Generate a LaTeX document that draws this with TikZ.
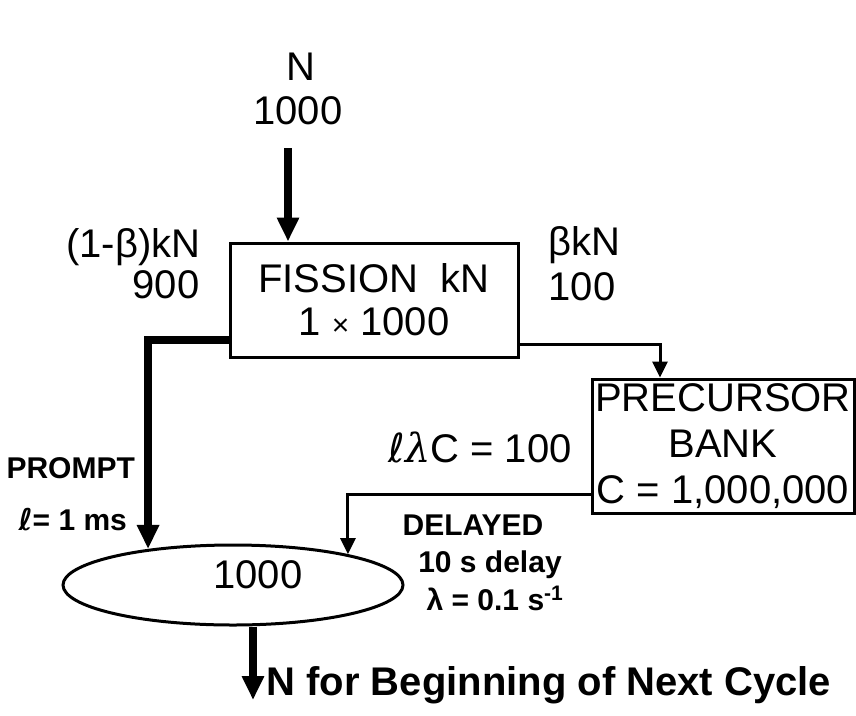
\documentclass[tikz,border=0pt]{standalone}
\usepackage{fontspec}
\setmainfont{Liberation Sans}
\newfontfamily\greekserif{DejaVu Serif}
\newfontfamily\scriptell{DejaVu Sans}
\usetikzlibrary{arrows.meta,shapes.geometric,positioning,calc}

\tikzset{
  bigtext/.style={font=\fontsize{40}{43}\selectfont},
  boldtext/.style={font=\fontsize{30}{34}\selectfont\bfseries},
  blockbox/.style={draw, line width=3pt, inner sep=0pt, align=center, bigtext},
  heavyflow/.style={line width=8pt, line join=miter, -{Triangle[length=24pt,width=21pt]}},
  lightflow/.style={line width=3pt, line join=miter, -{Triangle[length=16pt,width=15pt]}}
}

\begin{document}
\begin{tikzpicture}[x=1pt,y=-1pt]
\useasboundingbox (0,0) rectangle (856,715);

% boxes
\node (fission) [blockbox, minimum width=288pt, minimum height=114pt] at (374,300)
  {FISSION\ \ kN\\1 {\fontsize{30}{30}\selectfont×} 1000};
\node (precursor) [blockbox, minimum width=262pt, minimum height=134pt,
  font=\fontsize{40}{46}\selectfont] at (723,446)
  {PRECURSOR\\BANK\\C = 1,000,000};
\node (pool) [ellipse, draw, line width=3pt, inner sep=0pt,
  minimum width=340pt, minimum height=80pt] at (233,585) {};
\node (poolval) [bigtext, anchor=base] at (258,588) {1000};

% labels
\node (nname) [bigtext, anchor=base] at (301,80) {N};
\node (nval) [bigtext, anchor=base] at (298,124) {1000};
\node (promptfrac) [bigtext, anchor=base east] at (204,257) {(1-β)kN};
\node (promptval) [bigtext, anchor=base east] at (203,298) {900};
\node (delayfrac) [bigtext, anchor=base west] at (545,255) {βkN};
\node (delayval) [bigtext, anchor=base west] at (545,300) {100};
\node (emitted) [bigtext, anchor=base west] at (385,462) {{\scriptell ℓ}{\greekserif\itshape λ}C = 100};
\node (prompt) [boldtext, anchor=base west] at (3,478) {PROMPT};
\node (lifetime) [boldtext, anchor=base west] at (15,530) {{\scriptell ℓ}= 1 ms};
\node (delayed) [boldtext, anchor=base] at (473,535) {DELAYED};
\node (delaytime) [boldtext, anchor=base] at (490,572) {10 s delay};
\node (decay) [boldtext, anchor=base] at (495,610) {λ = 0.1 s\textsuperscript{-1}};
\node (nextcycle) [font=\fontsize{40}{43}\selectfont\bfseries, anchor=base west]
  at (263,695) {N for Beginning of Next Cycle};

% connectors
\coordinate (ntail) at (288,148);
\coordinate (nexthead) at (253,700);
\draw [heavyflow] (ntail) -- (ntail |- fission.north);
\draw [heavyflow] ([yshift=19pt]fission.south west) -| (pool.157);
\draw [lightflow] ([yshift=14pt]fission.south east) -| ([xshift=-63pt]precursor.north);
\draw [lightflow] ([yshift=20pt]precursor.south west) -| (pool.15);
\draw [heavyflow] ([xshift=20pt]pool.south) -- (nexthead);
\end{tikzpicture}
\end{document}
